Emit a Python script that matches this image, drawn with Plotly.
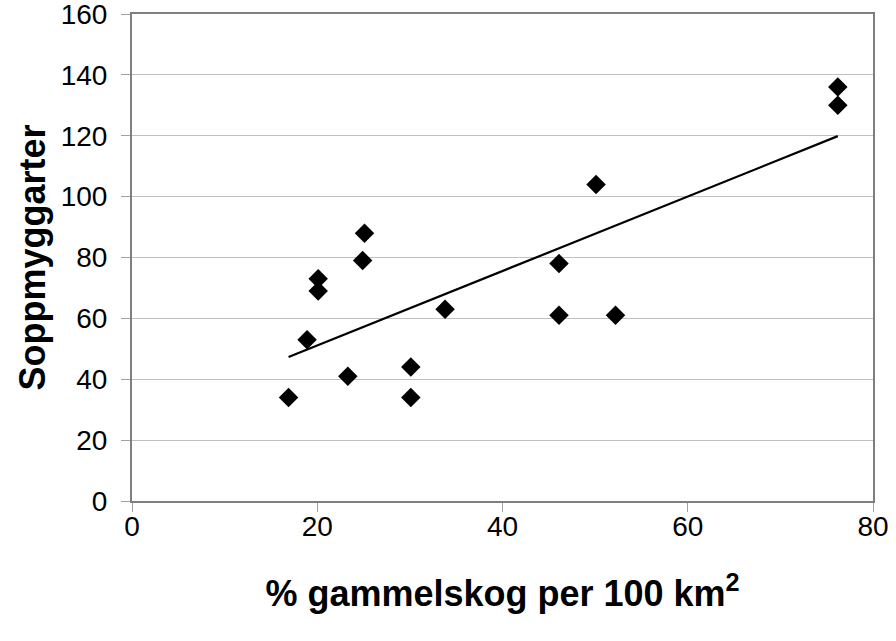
import numpy as np
import plotly.graph_objects as go

# Data
gammelskog = [16.9, 18.9, 20.1, 20.1, 23.3, 24.9, 25.1, 30.1, 30.1, 33.8,
              46.1, 46.1, 50.1, 52.2, 76.2, 76.2]
soppmyggarter = [34, 53, 73, 69, 41, 79, 88, 44, 34, 63,
                 78, 61, 104, 61, 136, 130]

x_ticks = [0, 20, 40, 60, 80]
y_ticks = [0, 20, 40, 60, 80, 100, 120, 140, 160]

# Linear trendline fitted to the data
slope, intercept = np.polyfit(gammelskog, soppmyggarter, 1)
xt = [min(gammelskog), max(gammelskog)]
yt = [slope * v + intercept for v in xt]

fig = go.Figure()
fig.add_trace(go.Scatter(x=xt, y=yt, mode="lines",
                         line=dict(color="black", width=2.2), showlegend=False,
                         hoverinfo="skip"))
fig.add_trace(go.Scatter(x=gammelskog, y=soppmyggarter, mode="markers",
                         marker=dict(symbol="diamond", size=15, color="black"),
                         showlegend=False))

axis_font = dict(family="Liberation Sans, Arial, sans-serif", size=28, color="black")
title_font = dict(family="Liberation Sans, Arial, sans-serif", size=36, color="black")

fig.update_layout(
    width=896, height=641,
    margin=dict(l=132, r=23, t=14, b=140),
    plot_bgcolor="white", paper_bgcolor="white",
    xaxis=dict(range=[0, 80], tickvals=x_ticks, showgrid=False,
               showline=True, linecolor="#7f7f7f", linewidth=2, mirror=True,
               ticks="outside", ticklen=9, tickcolor="#a0a0a0", tickwidth=1,
               tickfont=axis_font, zeroline=False, automargin=False,
               ticklabelstandoff=-10, ticklabeloverflow="allow",
               title=dict(text="<b>% gammelskog per 100 km<sup>2</sup></b>",
                          font=title_font, standoff=40)),
    yaxis=dict(range=[0, 160], tickvals=y_ticks, showgrid=True,
               gridcolor="#c0c0c0", gridwidth=1,
               showline=True, linecolor="#7f7f7f", linewidth=2, mirror=True,
               ticks="outside", ticklen=9, tickcolor="#a0a0a0", tickwidth=1,
               tickfont=axis_font, zeroline=False, automargin=False,
               ticklabelstandoff=8, ticklabeloverflow="allow",
               title=dict(text="<b>Soppmyggarter</b>", font=title_font, standoff=4)),
)

fig.write_html("out.html")
